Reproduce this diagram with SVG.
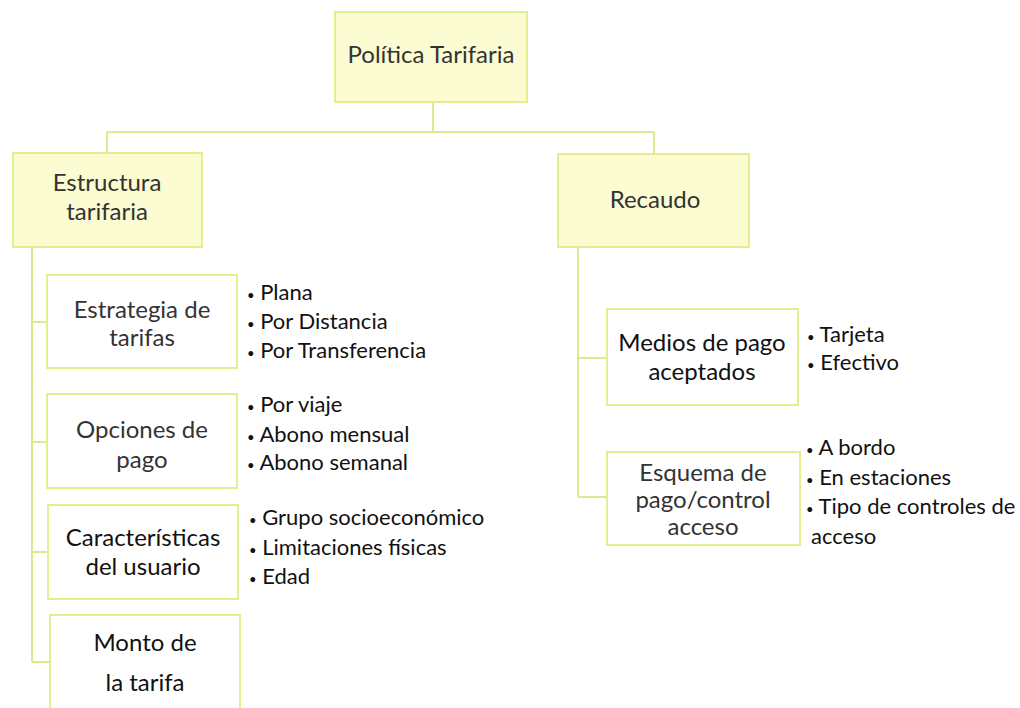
<svg xmlns="http://www.w3.org/2000/svg" width="1020" height="708" viewBox="0 0 1020 708">
<style>
.top{fill:#fcfcd2;stroke:#e4ee8c;stroke-width:2}
.sub{fill:#ffffff;stroke:#e4ee8c;stroke-width:2}
.ln{fill:none;stroke:#dde98e;stroke-width:2}
.t{font-family:Lato,"Liberation Sans",sans-serif;font-size:24px;fill:#333;text-anchor:middle}
.dk{fill:#111}
.b{font-family:Lato,"Liberation Sans",sans-serif;font-size:22px;fill:#111}
.d{font-size:13px}
</style>
<rect width="1020" height="708" fill="#fff"/>
<g id="connectors">
<path class="ln" d="M433 102V132M107 132H654M107 132V153M654 132V154"/>
<path class="ln" d="M32 247V662M32 322H47M32 442H47M32 552H48M32 662H50"/>
<path class="ln" d="M578 247V497M578 358H607M578 497H607"/>
</g>
<g id="politica">
<rect class="top" x="335" y="12" width="192" height="90"/>
<text class="t" x="431" y="63">Política Tarifaria</text>
</g>
<g id="estructura">
<rect class="top" x="13" y="153" width="189" height="94"/>
<text class="t" x="107" y="191">Estructura</text>
<text class="t" x="107" y="220">tarifaria</text>
</g>
<g id="recaudo">
<rect class="top" x="558" y="154" width="191" height="93"/>
<text class="t" x="655" y="208">Recaudo</text>
</g>
<g id="estrategia">
<rect class="sub" x="47" y="275" width="190" height="93"/>
<text class="t" x="142" y="318">Estrategia de</text>
<text class="t" x="142" y="346">tarifas</text>
<text class="b" x="247" y="300"><tspan class="d">•</tspan> Plana</text>
<text class="b" x="247" y="329"><tspan class="d">•</tspan> Por Distancia</text>
<text class="b" x="247" y="358"><tspan class="d">•</tspan> Por Transferencia</text>
</g>
<g id="opciones">
<rect class="sub" x="47" y="394" width="190" height="94"/>
<text class="t" x="142" y="438">Opciones de</text>
<text class="t" x="142" y="468">pago</text>
<text class="b" x="247" y="412"><tspan class="d">•</tspan> Por viaje</text>
<text class="b" x="247" y="442"><tspan class="d">•</tspan> Abono mensual</text>
<text class="b" x="247" y="470"><tspan class="d">•</tspan> Abono semanal</text>
</g>
<g id="caracteristicas">
<rect class="sub" x="48" y="505" width="190" height="94"/>
<text class="t dk" x="143" y="546">Características</text>
<text class="t dk" x="143" y="575">del usuario</text>
<text class="b" x="249" y="525"><tspan class="d">•</tspan> Grupo socioeconómico</text>
<text class="b" x="249" y="555"><tspan class="d">•</tspan> Limitaciones físicas</text>
<text class="b" x="249" y="584"><tspan class="d">•</tspan> Edad</text>
</g>
<g id="monto">
<rect class="sub" x="50" y="615" width="190" height="100"/>
<text class="t dk" x="145" y="651">Monto de</text>
<text class="t dk" x="145" y="691">la tarifa</text>
</g>
<g id="medios">
<rect class="sub" x="607" y="309" width="191" height="96"/>
<text class="t dk" x="702" y="351">Medios de pago</text>
<text class="t dk" x="702" y="380">aceptados</text>
<text class="b" x="807" y="342"><tspan class="d">•</tspan> Tarjeta</text>
<text class="b" x="807" y="370"><tspan class="d">•</tspan> Efectivo</text>
</g>
<g id="esquema">
<rect class="sub" x="607" y="452" width="193" height="93"/>
<text class="t" x="703" y="481">Esquema de</text>
<text class="t" x="703" y="508">pago/control</text>
<text class="t" x="703" y="535">acceso</text>
<text class="b" x="806" y="455"><tspan class="d">•</tspan> A bordo</text>
<text class="b" x="806" y="485"><tspan class="d">•</tspan> En estaciones</text>
<text class="b" x="806" y="514"><tspan class="d">•</tspan> Tipo de controles de</text>
<text class="b" x="811" y="544">acceso</text>
</g>
</svg>
